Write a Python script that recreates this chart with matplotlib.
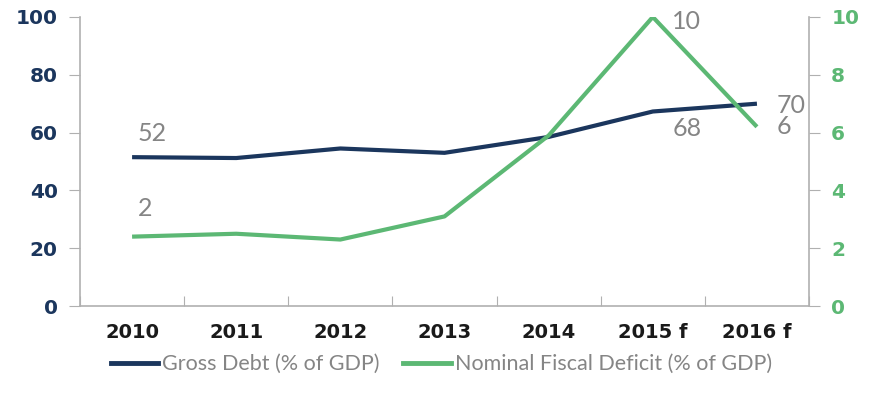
import matplotlib
matplotlib.use("Agg")
import matplotlib.pyplot as plt
from matplotlib.lines import Line2D

years = ["2010", "2011", "2012", "2013", "2014", "2015 f", "2016 f"]
gross_debt = [51.5, 51.2, 54.5, 53.0, 58.5, 67.3, 70.0]
fiscal_deficit = [2.4, 2.5, 2.3, 3.1, 5.9, 10.0, 6.2]
left_ticks = [0, 20, 40, 60, 80, 100]
right_ticks = [0, 2, 4, 6, 8, 10]
labels_debt = {0: "52", 5: "68", 6: "70"}
labels_def = {0: "2", 5: "10", 6: "6"}

NAVY = "#1b365d"
GREEN = "#5cb874"
GRAY = "#858585"
SPINE = "#b0b0b0"

fig = plt.figure(figsize=(8.9, 3.95), dpi=100)
ax = fig.add_axes([0.0899, 0.2253, 0.8191, 0.7317])
ax2 = ax.twinx()

x = list(range(len(years)))
ax.plot(x, gross_debt, color=NAVY, lw=3, solid_capstyle="butt", zorder=3)
ax2.plot(x, fiscal_deficit, color=GREEN, lw=3, solid_capstyle="butt", zorder=3)

ax.set_xlim(-0.5, len(years) - 0.5)
ax.set_ylim(0, 100)
ax2.set_ylim(0, 10)
ax.set_yticks(left_ticks)
ax2.set_yticks(right_ticks)
ax.set_xticks([i - 0.5 for i in range(len(years) + 1)])
ax.set_xticklabels([])
ax.set_xticks(x, minor=True)
ax.set_xticklabels(years, minor=True)
ax.tick_params(axis="x", which="minor", length=0, pad=12, labelsize=14)
ax.tick_params(axis="x", which="major", length=7, color=SPINE, direction="in")
for lab in ax.get_xticklabels(minor=True):
    lab.set_fontweight("bold")
    lab.set_color("#1a1a1a")

ax.tick_params(axis="y", length=8, color=SPINE, labelsize=14.5, labelcolor=NAVY, pad=8)
ax2.tick_params(axis="y", length=8, color=SPINE, labelsize=14.5, labelcolor=GREEN, pad=8)
for lab in ax.get_yticklabels():
    lab.set_fontweight("bold")
for lab in ax2.get_yticklabels():
    lab.set_fontweight("bold")

for a in (ax, ax2):
    a.spines["top"].set_visible(False)
    for s in ("left", "right", "bottom"):
        a.spines[s].set_color(SPINE)
        a.spines[s].set_linewidth(1.2)
ax.spines["right"].set_visible(False)
ax2.spines["left"].set_visible(False)
ax2.spines["bottom"].set_visible(False)

lab_font = dict(color=GRAY, fontsize=18, family="Lato")
ax.annotate(labels_debt[0], (0, gross_debt[0]), xytext=(4, 9), textcoords="offset points",
            ha="left", va="bottom", **lab_font)
ax.annotate(labels_debt[5], (5, gross_debt[5]), xytext=(14, -4), textcoords="offset points",
            ha="left", va="top", **lab_font)
ax.annotate(labels_debt[6], (6, gross_debt[6]), xytext=(14, -1), textcoords="offset points",
            ha="left", va="center", **lab_font)
ax2.annotate(labels_def[0], (0, fiscal_deficit[0]), xytext=(4, 12), textcoords="offset points",
             ha="left", va="bottom", **lab_font)
ax2.annotate(labels_def[5], (5, fiscal_deficit[5]), xytext=(14, -3), textcoords="offset points",
             ha="left", va="center", **lab_font)
ax2.annotate(labels_def[6], (6, fiscal_deficit[6]), xytext=(14, 0), textcoords="offset points",
             ha="left", va="center", **lab_font)

handles = [Line2D([], [], color=NAVY, lw=3.5), Line2D([], [], color=GREEN, lw=3.5)]
fig.legend(handles, ["Gross Debt (% of GDP)", "Nominal Fiscal Deficit (% of GDP)"],
           loc="center", bbox_to_anchor=(0.496, 0.078), ncol=2, frameon=False,
           handlelength=2.2, handletextpad=0.2, columnspacing=1.1,
           prop=dict(family="Lato", size=15.5), labelcolor=GRAY,
           borderpad=0, borderaxespad=0)

fig.savefig("out.png", dpi=100)
